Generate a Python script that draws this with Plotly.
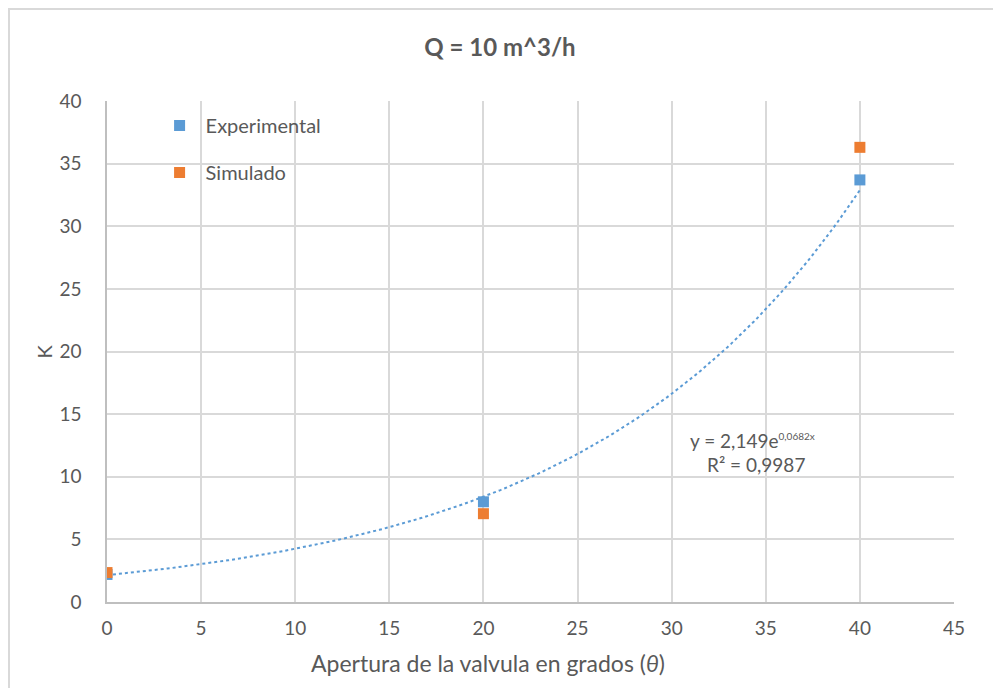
import numpy as np
import plotly.graph_objects as go

apertura = [0, 20, 40]
k_experimental = [2.2, 8.0, 33.7]
k_simulado = [2.35, 7.05, 36.3]

x_ticks = list(range(0, 50, 5))
y_ticks = list(range(0, 45, 5))

TEXT = "#595959"
GRID = "#d9d9d9"
FONT = "Lato, 'Noto Sans', sans-serif"

# plot area in page pixels (the page body adds an 8px offset)
PX_L, PX_R, PX_T, PX_B = 107, 954, 101, 602
PW, PH = PX_R - PX_L, PX_B - PX_T


def px_x(x):
    return (x - PX_L) / PW


def px_y(y):
    return (PX_B - y) / PH


# exponential trendline fitted to the experimental series
b, ln_a = np.polyfit(apertura, np.log(k_experimental), 1)
x_fit = np.linspace(min(apertura), max(apertura), 200)
y_fit = np.exp(ln_a) * np.exp(b * x_fit)

fig = go.Figure()

fig.add_trace(
    go.Scatter(
        x=x_fit,
        y=y_fit,
        mode="lines",
        line=dict(color="#5b9bd5", width=2, dash="dot"),
        showlegend=False,
        hoverinfo="skip",
    )
)

fig.add_trace(
    go.Scatter(
        x=apertura,
        y=k_experimental,
        mode="markers",
        name="Experimental",
        legendgroup="exp",
        marker=dict(symbol="square", size=11, color="#5b9bd5"),
    )
)

fig.add_trace(
    go.Scatter(
        x=apertura,
        y=k_simulado,
        mode="markers",
        name="Simulado",
        legendgroup="sim",
        marker=dict(symbol="square", size=11, color="#ed7d31"),
    )
)

# trendline equation, two lines
fig.add_annotation(
    x=px_x(688),
    y=px_y(440),
    xref="paper",
    yref="paper",
    xanchor="left",
    yanchor="middle",
    text='y = 2,149e<sup><span style="font-size:10px">0,0682x</span></sup>',
    showarrow=False,
    font=dict(family=FONT, size=19, color=TEXT),
)
fig.add_annotation(
    x=px_x(756),
    y=px_y(464),
    xref="paper",
    yref="paper",
    xanchor="center",
    yanchor="middle",
    text="R² = 0,9987",
    showarrow=False,
    font=dict(family=FONT, size=19, color=TEXT),
)

# axis titles
fig.add_annotation(
    x=px_x(488),
    y=px_y(663),
    xref="paper",
    yref="paper",
    xanchor="center",
    yanchor="middle",
    text="Apertura de la valvula en grados (<i>θ</i>)",
    showarrow=False,
    font=dict(family=FONT, size=23, color=TEXT),
)
fig.add_annotation(
    x=px_x(43),
    y=0.5,
    xref="paper",
    yref="paper",
    xanchor="center",
    yanchor="middle",
    textangle=-90,
    text="K",
    showarrow=False,
    font=dict(family=FONT, size=20, color=TEXT),
)

# chart area frame, starting at the figure's top-left corner
fig.add_shape(
    type="rect",
    xref="paper",
    yref="paper",
    x0=px_x(9),
    y0=px_y(720),
    x1=px_x(1030),
    y1=px_y(9),
    line=dict(color=GRID, width=2),
    layer="below",
)

fig.update_layout(
    width=1001,
    height=688,
    margin=dict(l=PX_L - 8, r=1001 - PX_R + 8, t=PX_T - 8, b=688 - PX_B + 8),
    paper_bgcolor="white",
    plot_bgcolor="white",
    font=dict(family=FONT, size=19, color=TEXT),
    title=dict(
        text="<b>Q = 10 m^3/h</b>",
        x=(500 - 8) / 1001,
        xanchor="center",
        y=1 - 40 / 688,
        yanchor="middle",
        font=dict(family=FONT, size=24, color=TEXT),
    ),
    legend=dict(
        x=0.055,
        y=0.99,
        xanchor="left",
        yanchor="top",
        bgcolor="rgba(0,0,0,0)",
        tracegroupgap=18,
        itemwidth=42,
        font=dict(family=FONT, size=20, color=TEXT),
    ),
    xaxis=dict(
        range=[0, 45],
        tickvals=x_ticks,
        showgrid=True,
        gridcolor=GRID,
        gridwidth=1.5,
        zeroline=False,
        showline=True,
        linecolor="#bfbfbf",
        linewidth=1.5,
        ticks="",
        ticklabelstandoff=8,
        tickfont=dict(family=FONT, size=19, color=TEXT),
    ),
    yaxis=dict(
        range=[0, 40],
        tickvals=y_ticks,
        showgrid=True,
        gridcolor=GRID,
        gridwidth=1.5,
        zeroline=False,
        showline=True,
        linecolor="#bfbfbf",
        linewidth=1.5,
        ticks="",
        ticklabelstandoff=20,
        tickfont=dict(family=FONT, size=19, color=TEXT),
    ),
)

fig.write_html("out.html")
